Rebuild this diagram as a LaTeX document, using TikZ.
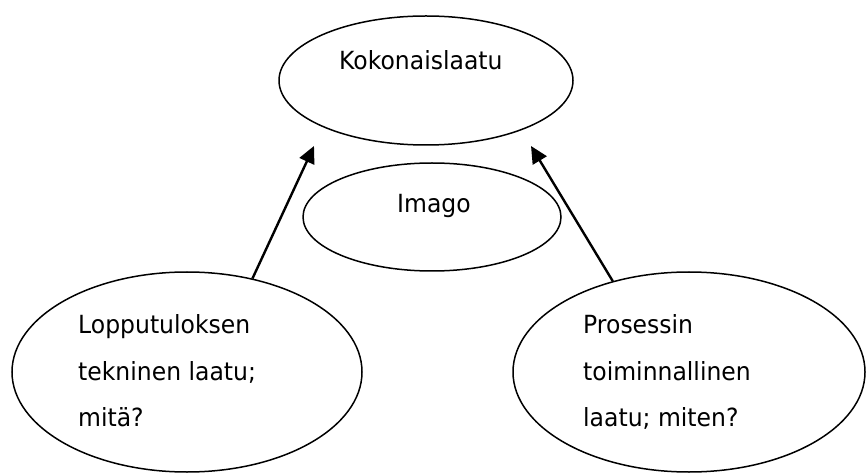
\documentclass[tikz,border=0pt]{standalone}
\usepackage{fontspec}
\setmainfont{DejaVu Sans}[FakeStretch=0.94]
\usetikzlibrary{shapes.geometric,arrows.meta}
\begin{document}
\begin{tikzpicture}[x=1pt,y=1pt,
  oval/.style={draw=black,line width=1.5pt,ellipse,inner sep=0pt},
  lbl/.style={anchor=base west,inner sep=0pt,font=\fontsize{25}{25}\selectfont},
  arr/.style={line width=2.4pt,-{Triangle[length=17pt,width=16pt]}}]
\useasboundingbox (0,0) rectangle (866,474);
\node[oval,minimum width=294pt,minimum height=129pt] (K) at (426,393.5) {};
\node[oval,minimum width=258pt,minimum height=108pt] (I) at (432,257) {};
\node[oval,minimum width=350pt,minimum height=200pt] (L) at (187,102) {};
\node[oval,minimum width=352pt,minimum height=200pt] (R) at (689,102) {};
\node[lbl] (tK) at (339,404) {Kokonaislaatu};
\node[lbl] (tI) at (397,261) {Imago};
\node[lbl] (tL1) at (78,141) {Lopputuloksen};
\node[lbl] (tL2) at (78,94) {tekninen laatu;};
\node[lbl] (tL3) at (78,48) {mitä?};
\node[lbl] (tR1) at (583,141) {Prosessin};
\node[lbl] (tR2) at (583,94) {toiminnallinen};
\node[lbl] (tR3) at (583,48) {laatu; miten?};
\coordinate (aL) at (314,328);
\coordinate (aR) at (531,328);
\draw[arr] (L.55) -- (aL);
\draw[arr] (R.130) -- (aR);
\end{tikzpicture}
\end{document}
